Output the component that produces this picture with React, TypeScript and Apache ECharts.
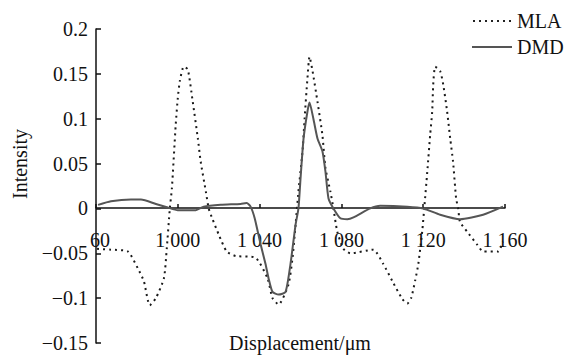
import React, { useEffect, useRef } from "react";
import * as echarts from "echarts";

const mlaX = [960.5, 967.3, 975.6, 980.5, 983.4, 986.3, 989.3, 993.2, 994.6, 996.1, 997.1, 999.0, 1000, 1001, 1002.9, 1004.9, 1007.3, 1009.8, 1011.2, 1013.7, 1015.1, 1017, 1020, 1023.9, 1028.3, 1038, 1043.9, 1046.3, 1049.3, 1054.1, 1056.1, 1057.6, 1059, 1061, 1062, 1063.4, 1064.4, 1065.9, 1068.3, 1070.7, 1072.2, 1074.6, 1076.1, 1078, 1081, 1084.4, 1095.6, 1100.5, 1104.9, 1109.8, 1112.2, 1114.1, 1116.1, 1117.6, 1119.5, 1120.5, 1122, 1123.4, 1124.4, 1124.9, 1125.9, 1128.3, 1129.8, 1131.7, 1133.2, 1134.6, 1136.1, 1137.1, 1138, 1141.5, 1146.3, 1149.3, 1156.6, 1159];
const mlaY = [-0.045, -0.046, -0.048, -0.067, -0.081, -0.108, -0.1, -0.078, -0.045, 0, 0.022, 0.094, 0.123, 0.142, 0.158, 0.155, 0.119, 0.078, 0.052, 0.019, 0, -0.012, -0.029, -0.048, -0.053, -0.055, -0.078, -0.1, -0.107, -0.085, -0.055, -0.018, 0.019, 0.064, 0.1, 0.145, 0.169, 0.153, 0.119, 0.082, 0.045, 0.019, 0, -0.026, -0.045, -0.05, -0.046, -0.062, -0.081, -0.101, -0.106, -0.1, -0.08, -0.062, -0.026, 0, 0.041, 0.082, 0.108, 0.138, 0.158, 0.153, 0.138, 0.108, 0.078, 0.052, 0.011, 0, -0.015, -0.026, -0.04, -0.048, -0.048, -0.037];

const dmdX = [961, 967.3, 977.1, 982, 989.3, 995.1, 1000, 1008.8, 1012.7, 1021, 1030.7, 1033.7, 1035.6, 1037.6, 1040.5, 1042.9, 1044.4, 1046.3, 1049.3, 1052.7, 1055.1, 1057.6, 1059, 1060, 1061.5, 1063.4, 1064.4, 1066.3, 1068.3, 1070.7, 1072.2, 1073.7, 1076.1, 1079.5, 1082.9, 1085.9, 1094.1, 1099, 1112.2, 1120, 1128.3, 1138, 1149.3, 1159];
const dmdY = [0.004, 0.008, 0.01, 0.01, 0.005, 0.001, -0.002, -0.002, 0.002, 0.004, 0.005, 0.006, 0.002, -0.011, -0.04, -0.062, -0.078, -0.093, -0.096, -0.093, -0.062, -0.018, 0, 0.033, 0.078, 0.108, 0.118, 0.1, 0.078, 0.064, 0.041, 0.011, 0, -0.011, -0.012, -0.01, 0, 0.003, 0.002, 0, -0.007, -0.012, -0.007, 0.002];

const xTicks = [960, 1000, 1040, 1080, 1120, 1160];
const xTickLabels = ["60", "1 000", "1 040", "1 080", "1 120", "1 160"];
const seriesNames = ["MLA", "DMD"];

const FONT = "'Liberation Serif', 'Times New Roman', serif";
const FS = 20;

function dottedIcon() {
  let d = "";
  for (let i = 0; i < 7; i++) {
    const x = i * 6;
    d += `M${x},0h2v2h-2z`;
  }
  return "path://" + d;
}

export default function App() {
  const ref = useRef<HTMLDivElement>(null);
  useEffect(() => {
    if (!ref.current) return;
    const chart = echarts.init(ref.current, undefined, { renderer: "svg" });
    const mla = mlaX.map((x, i) => [x, mlaY[i]]);
    const dmd = dmdX.map((x, i) => [x, dmdY[i]]);
    chart.setOption({
      animation: false,
      backgroundColor: "#ffffff",
      grid: { left: 96, right: 74, top: 29, bottom: 13, containLabel: false, outerBoundsMode: "none" },
      legend: {
        orient: "vertical",
        left: 467,
        top: 6,
        itemWidth: 40,
        itemHeight: 2,
        itemGap: 6,
        textStyle: { fontFamily: FONT, fontSize: FS, color: "#111" },
        data: [
          { name: seriesNames[0], icon: dottedIcon(), itemStyle: { color: "#222" } },
          { name: seriesNames[1], icon: "path://M0,0h40v2h-40z", itemStyle: { color: "#555" } },
        ],
      },
      xAxis: {
        type: "value",
        position: "bottom",
        offset: -135,
        min: 960,
        max: 1160,
        interval: 40,
        axisLine: { onZero: false, lineStyle: { color: "#111", width: 1.5 } },
        axisTick: { inside: true, length: 4, lineStyle: { color: "#111", width: 1.5 } },
        splitLine: { show: false },
        axisLabel: {
          margin: 22,
          fontFamily: FONT,
          fontSize: FS,
          color: "#111",
          hideOverlap: false,
          rich: { first: { fontFamily: FONT, fontSize: FS, color: "#111", padding: [0, 0, 0, 8] } },
          formatter: (v: number) => {
            const i = xTicks.indexOf(Math.round(v));
            if (i === 0) return "{first|" + xTickLabels[0] + "}";
            return i >= 0 ? xTickLabels[i] : "";
          },
        },
      },
      yAxis: {
        type: "value",
        min: -0.15,
        max: 0.2,
        interval: 0.05,
        axisLine: { show: true, onZero: false, lineStyle: { color: "#111", width: 1.5 } },
        axisTick: { show: true, inside: true, length: 5, lineStyle: { color: "#111", width: 1.5 } },
        splitLine: { show: false },
        axisLabel: {
          margin: 8,
          fontFamily: FONT,
          fontSize: FS,
          color: "#111",
          formatter: (v: number) => {
            const r = Math.round(v * 100) / 100;
            if (r === 0) return "0";
            return r < 0 ? "\u2212" + String(-r) : String(r);
          },
        },
      },
      graphic: [
        {
          type: "text",
          x: 20,
          y: 164,
          rotation: Math.PI / 2,
          style: {
            text: "Intensity",
            fontFamily: FONT,
            fontSize: FS,
            fill: "#111",
            align: "center",
            verticalAlign: "middle",
          },
        },
        {
          type: "text",
          x: 300,
          y: 343,
          style: {
            text: "Displacement/\u03bcm",
            fontFamily: FONT,
            fontSize: FS,
            fill: "#111",
            align: "center",
            verticalAlign: "middle",
          },
        },
      ],
      series: [
        {
          name: "MLA",
          type: "line",
          data: mla,
          showSymbol: false,
          symbol: "none",
          smooth: 0.2,
          lineStyle: { color: "#1a1a1a", width: 2, type: [2, 4] },
          itemStyle: { color: "#1a1a1a" },
        },
        {
          name: "DMD",
          type: "line",
          data: dmd,
          showSymbol: false,
          symbol: "none",
          smooth: 0.2,
          lineStyle: { color: "#555", width: 2 },
          itemStyle: { color: "#555" },
        },
      ],
    });
    return () => chart.dispose();
  }, []);
  return <div ref={ref} style={{ position: "absolute", left: 0, top: 0, width: 579, height: 356 }} />;
}
